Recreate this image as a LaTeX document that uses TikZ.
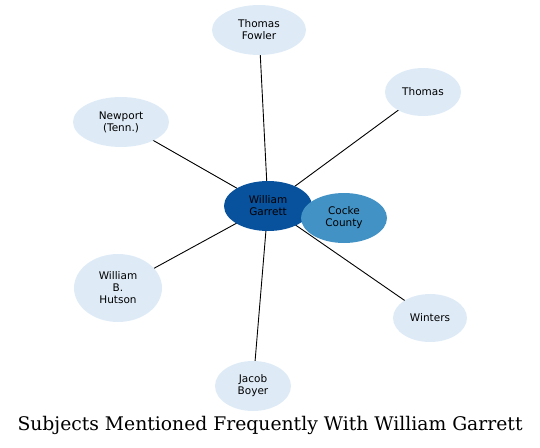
\documentclass[tikz,border=0pt]{standalone}
\usepackage{fontspec}
\usetikzlibrary{shapes.geometric,backgrounds}
\newfontfamily\nodefont{DejaVu Sans}
\newfontfamily\titlefont{DejaVu Serif}
\definecolor{dark}{HTML}{08519C}
\definecolor{mid}{HTML}{4292C6}
\definecolor{light}{HTML}{DEEBF7}
\tikzset{
  bubble/.style={ellipse, inner sep=0pt, align=center, text=black,
    font=\nodefont\fontsize{10.5}{12}\selectfont},
  lightbubble/.style={bubble, fill=light},
  edge/.style={draw=black, line width=0.9pt}
}
\begin{document}
\begin{tikzpicture}[x=1pt,y=-1pt]
\useasboundingbox (0,0) rectangle (540,447);
\node[bubble, fill=dark, minimum width=88, minimum height=50] (g) at (268,206) {William\\Garrett};
\node[bubble, fill=mid, minimum width=86, minimum height=50] (cc) at (344,218) {Cocke\\County};
\node[lightbubble, minimum width=94, minimum height=50] (tf) at (259,30) {Thomas\\Fowler};
\node[lightbubble, minimum width=76, minimum height=48] (th) at (423,92) {Thomas};
\node[lightbubble, minimum width=96, minimum height=50] (np) at (121,122) {Newport\\(Tenn.)};
\node[lightbubble, minimum width=88, minimum height=68] (wh) at (118,288) {William\\B.\\Hutson};
\node[lightbubble, minimum width=74, minimum height=48] (wi) at (430,318) {Winters};
\node[lightbubble, minimum width=76, minimum height=50] (jb) at (253,386) {Jacob\\Boyer};
\begin{scope}[on background layer]
\foreach \t in {cc,tf,th,np,wh,wi,jb} \draw[edge] (g.center) -- (\t.center);
\end{scope}
\node (title) at (270,425) {\resizebox{505pt}{!}{\titlefont Subjects Mentioned Frequently With William Garrett}};
\end{tikzpicture}
\end{document}
